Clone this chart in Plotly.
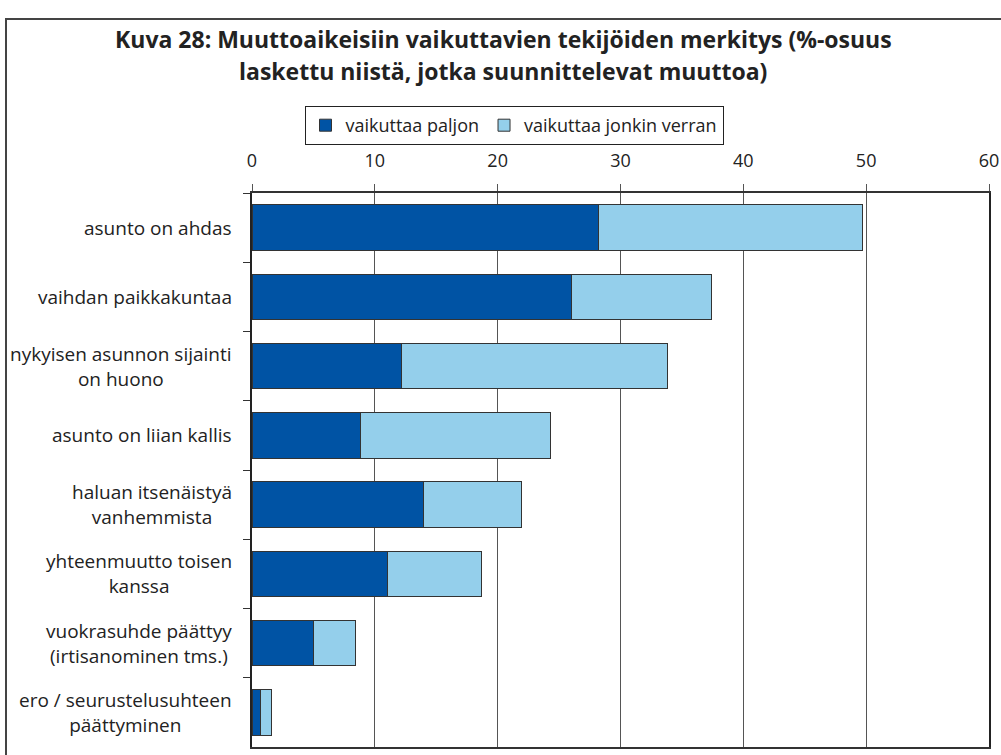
import plotly.graph_objects as go

categories = [
    "asunto on ahdas",
    "vaihdan paikkakuntaa",
    "nykyisen asunnon sijainti<br>on huono",
    "asunto on liian kallis",
    "haluan itsenäistyä<br>vanhemmista",
    "yhteenmuutto toisen<br>kanssa",
    "vuokrasuhde päättyy<br>(irtisanominen tms.)",
    "ero / seurustelusuhteen<br>päättyminen",
]
paljon = [28.2, 26.0, 12.2, 8.8, 14.0, 11.0, 5.0, 0.7]
jonkin_verran = [21.5, 11.4, 21.6, 15.5, 7.9, 7.7, 3.4, 0.9]
series_names = ["vaikuttaa paljon", "vaikuttaa jonkin verran"]
title_lines = [
    "Kuva 28: Muuttoaikeisiin vaikuttavien tekijöiden merkitys (%-osuus",
    "laskettu niistä, jotka suunnittelevat muuttoa)",
]
x_ticks = [0, 10, 20, 30, 40, 50, 60]

FONT = "Open Sans"
TXT = "#222222"

fig_w, fig_h = 1001, 755
ml, mr, mt, mb = 252, 12, 193, 8
plot_w = fig_w - ml - mr
plot_h = fig_h - mt - mb


def px(xpix):
    return (xpix - ml) / plot_w


def py(ypix):
    return (fig_h - mb - ypix) / plot_h


fig = go.Figure()
fig.add_trace(go.Bar(
    y=categories, x=paljon, name=series_names[0], orientation="h",
    marker=dict(color="#0053A4", line=dict(color="#333333", width=1)),
))
fig.add_trace(go.Bar(
    y=categories, x=jonkin_verran, name=series_names[1], orientation="h",
    marker=dict(color="#94CFEB", line=dict(color="#333333", width=1)),
))

annotations = []
for c in categories:
    annotations.append(dict(
        x=0, xref="paper", y=c, yref="y", xanchor="right", yanchor="middle",
        xshift=-18, text=c, showarrow=False, align="center",
        font=dict(family=FONT, size=19, color=TXT),
    ))
for t, ypix in zip(title_lines, [39, 71]):
    annotations.append(dict(
        x=px(503), xref="paper", y=py(ypix), yref="paper",
        xanchor="center", yanchor="middle", text="<b>" + t + "</b>",
        showarrow=False, font=dict(family=FONT, size=23, color=TXT),
    ))

fig.update_layout(
    width=fig_w, height=fig_h,
    margin=dict(l=ml, r=mr, t=mt, b=mb, autoexpand=False),
    barmode="stack", bargap=0.34,
    plot_bgcolor="white", paper_bgcolor="white",
    font=dict(family=FONT, size=18, color=TXT),
    showlegend=True,
    legend=dict(
        orientation="h", x=px(514), y=py(125.5),
        xanchor="center", yanchor="middle", traceorder="normal",
        bordercolor="#222222", borderwidth=1,
        font=dict(family=FONT, size=18, color=TXT),
        itemwidth=30,
    ),
    xaxis=dict(
        side="top", range=[0, 60], tickvals=x_ticks, ticktext=[str(v) for v in x_ticks],
        showgrid=True, gridcolor="#555555", gridwidth=1,
        showline=True, linecolor="#333333", linewidth=1.5, mirror=True,
        ticks="outside", ticklen=7, tickcolor="#555555", tickwidth=1,
        zeroline=False, tickfont=dict(family=FONT, size=18, color=TXT),
        ticklabelstandoff=10,
    ),
    yaxis=dict(
        autorange="reversed", showticklabels=False, tickson="boundaries",
        ticks="outside", ticklen=7, tickcolor="#333333",
        showline=True, linecolor="#222222", linewidth=1.5, mirror=True,
        showgrid=False,
    ),
    annotations=annotations,
    shapes=[dict(
        type="rect", xref="paper", yref="paper",
        x0=px(6), x1=1.2, y0=-0.2, y1=py(19),
        line=dict(color="#444444", width=2), fillcolor="rgba(0,0,0,0)", layer="below",
    )],
)

fig.write_html("out.html", config={"displayModeBar": False},
               post_script="document.body.style.margin='0';")
